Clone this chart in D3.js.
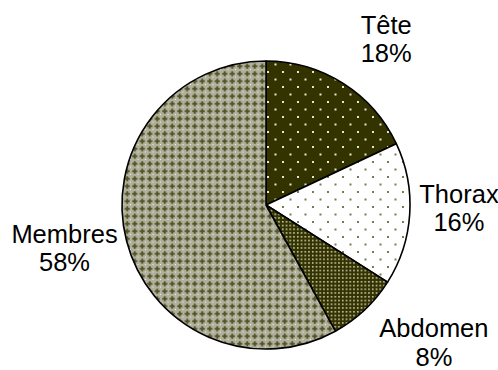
<!DOCTYPE html>
<html>
<head>
<meta charset="utf-8">
<script src="https://cdn.jsdelivr.net/npm/d3@7/dist/d3.min.js"></script>
<style>
  html, body { margin: 0; padding: 0; background: #ffffff; }
  svg { display: block; }
  text { font-family: "Liberation Sans", Arial, sans-serif; fill: #000; }
</style>
</head>
<body>
<svg id="chart" width="498" height="370"></svg>
<script>
// Répartition des lésions par région du corps
const categories = ["Tête", "Thorax", "Abdomen", "Membres"];
const values = [18, 16, 8, 58];
const valueLabels = ["18%", "16%", "8%", "58%"];
const patternIds = ["pat-tete", "pat-thorax", "pat-abdomen", "pat-membres"];

const width = 498, height = 370;
const cx = 266, cy = 205, radius = 144;

const svg = d3.select("#chart");
const defs = svg.append("defs");
const olive = "#333300";

// Tête: sparse light dots on dark olive
{
  const p = defs.append("pattern").attr("id", "pat-tete")
    .attr("patternUnits", "userSpaceOnUse").attr("width", 15).attr("height", 15);
  p.append("rect").attr("width", 15).attr("height", 15).attr("fill", olive);
  [[1, 1], [8.5, 8.5]].forEach(([x, y]) =>
    p.append("rect").attr("x", x).attr("y", y).attr("width", 2).attr("height", 2).attr("fill", "#e6e6d6"));
}
// Thorax: sparse olive dots on white
{
  const p = defs.append("pattern").attr("id", "pat-thorax")
    .attr("patternUnits", "userSpaceOnUse").attr("width", 15).attr("height", 15);
  p.append("rect").attr("width", 15).attr("height", 15).attr("fill", "#ffffff");
  [[1, 1], [8.5, 8.5]].forEach(([x, y]) =>
    p.append("rect").attr("x", x).attr("y", y).attr("width", 2).attr("height", 2).attr("fill", "#7a7a50"));
}
// Abdomen: dense light dots on dark olive
{
  const p = defs.append("pattern").attr("id", "pat-abdomen")
    .attr("patternUnits", "userSpaceOnUse").attr("width", 7.5).attr("height", 7.5);
  p.append("rect").attr("width", 7.5).attr("height", 7.5).attr("fill", olive);
  [[1, 1], [4.75, 1], [1, 4.75], [4.75, 4.75]].forEach(([x, y]) =>
    p.append("rect").attr("x", x).attr("y", y).attr("width", 1.5).attr("height", 1.5).attr("fill", "#dcdcc8"));
}
// Membres: olive crosses on a light grey trellis
{
  const p = defs.append("pattern").attr("id", "pat-membres")
    .attr("patternUnits", "userSpaceOnUse").attr("width", 7.5).attr("height", 7.5);
  p.append("rect").attr("width", 7.5).attr("height", 7.5).attr("fill", "#b0b09c");
  p.append("rect").attr("x", 2.75).attr("y", 1.25).attr("width", 2).attr("height", 5).attr("fill", "#55552a");
  p.append("rect").attr("x", 1.25).attr("y", 2.75).attr("width", 5).attr("height", 2).attr("fill", "#55552a");
  p.append("rect").attr("x", 6.5).attr("y", 6.5).attr("width", 1.8).attr("height", 1.8).attr("fill", "#f4f4ee");
}

const pie = d3.pie().sort(null).value(d => d)(values);
const arc = d3.arc().innerRadius(0).outerRadius(radius);

const g = svg.append("g").attr("transform", `translate(${cx},${cy})`);

g.selectAll("path.slice")
  .data(pie)
  .join("path")
  .attr("class", "slice")
  .attr("d", arc)
  .attr("fill", (d, i) => `url(#${patternIds[i]})`)
  .attr("stroke", "#000")
  .attr("stroke-width", 1.6)
  .attr("stroke-linejoin", "round");

// Labels: category name over the percentage, centred around a point
// outside each slice (distance from centre, small angular shift in degrees)
const fontSize = 25.5;
const lineH = 28.5;
const capH = 0.716 * fontSize;
const labelDist = [205, 193, 217, 206];
const labelShift = [3.5, -2.7, -7.5, 2.4];

const labels = g.selectAll("text.label")
  .data(pie)
  .join("text")
  .attr("class", "label")
  .attr("text-anchor", "middle")
  .style("font-size", fontSize + "px")
  .each(function (d, i) {
    const a = (d.startAngle + d.endAngle) / 2 + labelShift[i] * Math.PI / 180;
    const lx = labelDist[i] * Math.sin(a);
    const ly = -labelDist[i] * Math.cos(a);
    const base = ly - (lineH - capH) / 2;
    const t = d3.select(this);
    t.append("tspan").attr("x", lx).attr("y", base).text(categories[i]);
    t.append("tspan").attr("x", lx).attr("y", base + lineH).text(valueLabels[i]);
  });
</script>
</body>
</html>
